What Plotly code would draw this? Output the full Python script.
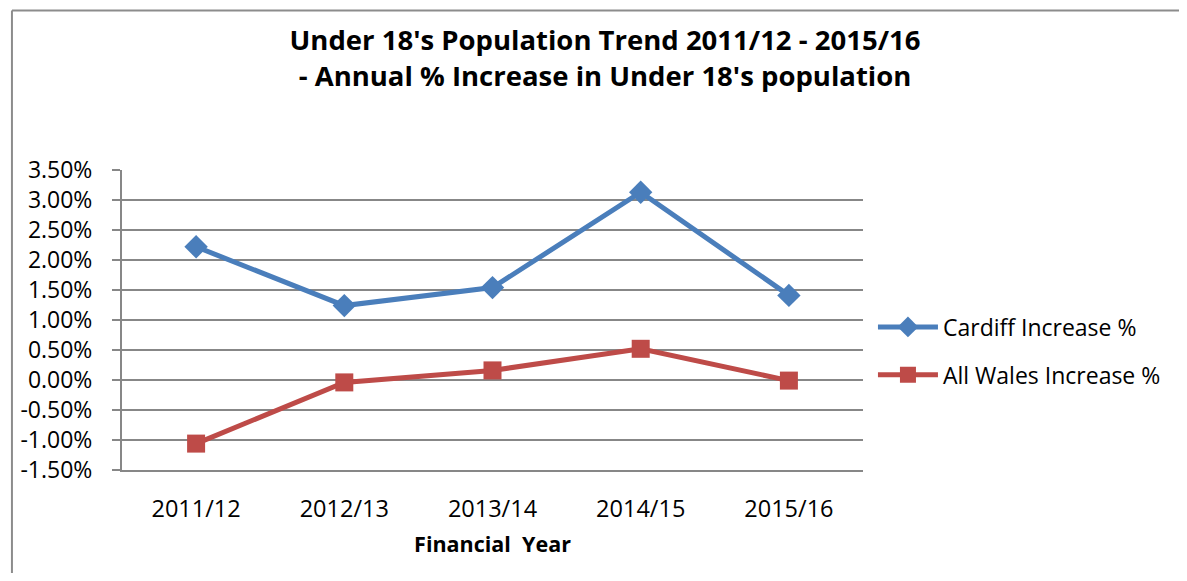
import plotly.graph_objects as go

years = ["2011/12", "2012/13", "2013/14", "2014/15", "2015/16"]
cardiff = [0.0222, 0.0124, 0.0154, 0.0313, 0.0141]
wales = [-0.0106, -0.0004, 0.0016, 0.0052, -0.0001]
y_ticks = [-0.015, -0.01, -0.005, 0.0, 0.005, 0.01, 0.015, 0.02, 0.025, 0.03, 0.035]
y_ticktext = [f"{v * 100:.2f}%" for v in y_ticks]

FONT = "Open Sans"
OFF = 8  # page body margin
W, H = 1187 - OFF, 581 - 2 * OFF
L, R, T, B = 119 - OFF, 863 - OFF, 170 - OFF, 470 - OFF

fig = go.Figure()
fig.add_trace(go.Scatter(
    x=years, y=cardiff, name="Cardiff Increase %", mode="lines+markers",
    legendgroup="a",
    line=dict(color="#4A7EBB", width=5),
    marker=dict(symbol="diamond", size=18, color="#4A7EBB"),
))
fig.add_trace(go.Scatter(
    x=years, y=wales, name="All Wales Increase %", mode="lines+markers",
    legendgroup="b",
    line=dict(color="#BE4B48", width=5),
    marker=dict(symbol="square", size=18, color="#BE4B48"),
))

fig.update_layout(
    width=W, height=H,
    margin=dict(l=L, r=W - R, t=T, b=H - B),
    paper_bgcolor="white", plot_bgcolor="white",
    font=dict(family=FONT, size=21, color="#000000"),
    title=dict(
        text="<b>Under 18's Population Trend 2011/12 - 2015/16<br>- Annual % Increase in Under 18's population</b>",
        x=(605 - OFF) / W, xanchor="center", y=1 - (50 - OFF) / H, yanchor="middle",
        font=dict(family=FONT, size=27.5, color="#000000"),
    ),
    xaxis=dict(
        range=[-0.5, 4.5],
        showline=True, linecolor="#878787", linewidth=2,
        showgrid=False, ticks="", tickfont=dict(size=23.5),
        ticklabelstandoff=17,
        title=dict(text="<b>Financial  Year</b>", font=dict(size=21.5), standoff=14),
    ),
    yaxis=dict(
        range=[-0.015, 0.035], tickvals=y_ticks, ticktext=y_ticktext,
        showline=True, linecolor="#878787", linewidth=2,
        showgrid=True, gridcolor="#878787", gridwidth=2,
        ticks="outside", ticklen=8, tickcolor="#878787", tickwidth=2,
        zeroline=False, tickfont=dict(size=23), ticklabelstandoff=15,
    ),
    legend=dict(
        x=(873 - OFF - L) / (R - L), xanchor="left",
        y=(B - (351 - OFF)) / (B - T), yanchor="middle",
        font=dict(size=23), tracegroupgap=15, itemwidth=60,
        bgcolor="rgba(0,0,0,0)",
    ),
    showlegend=True,
)

# outer chart border (top and left edges visible)
fig.add_shape(
    type="line", xref="paper", yref="paper",
    x0=(8.5 - OFF - L) / (R - L), x1=(W - L) / (R - L),
    y0=(B - (10.5 - OFF)) / (B - T), y1=(B - (10.5 - OFF)) / (B - T),
    line=dict(color="#8C8C8C", width=2), layer="below",
)
fig.add_shape(
    type="line", xref="paper", yref="paper",
    x0=(8.5 - OFF - L) / (R - L), x1=(8.5 - OFF - L) / (R - L),
    y0=(B - (10.5 - OFF)) / (B - T), y1=(B - H) / (B - T),
    line=dict(color="#8C8C8C", width=2), layer="below",
)

fig.write_html("out.html")
